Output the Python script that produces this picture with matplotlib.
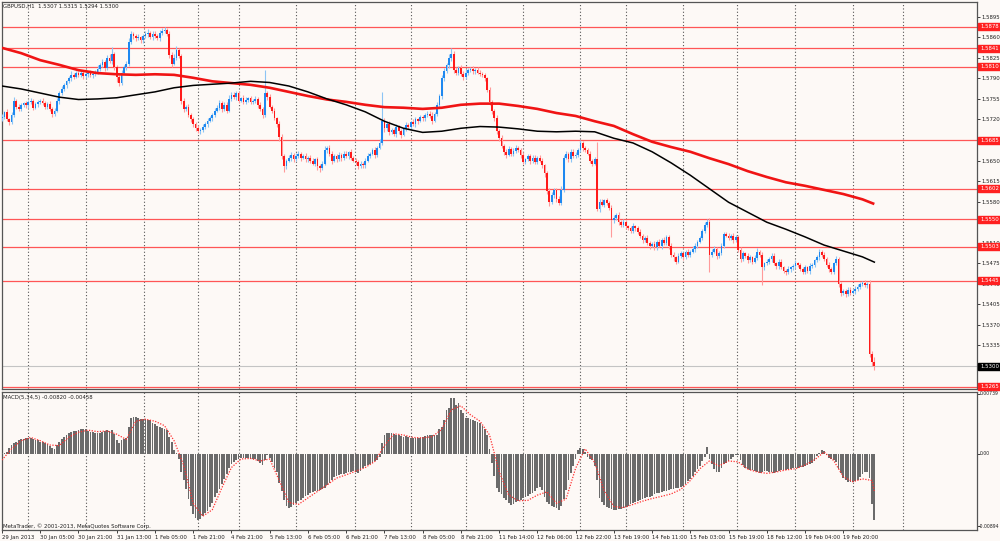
import numpy as np
import matplotlib
matplotlib.use("Agg")
import matplotlib.pyplot as plt
from matplotlib.patches import Rectangle
from matplotlib.transforms import blended_transform_factory

# GBPUSD H1 candles, prices as pips over 1.0000 (5725 -> 1.5725), one row = 16 bars
first_open = 5722
close = [
    5725, 5732, 5720, 5716, 5728, 5752, 5742, 5738, 5745, 5748, 5744, 5750, 5752, 5740, 5746, 5750,
    5752, 5748, 5742, 5747, 5738, 5730, 5735, 5752, 5765, 5772, 5778, 5785, 5790, 5796, 5793, 5799,
    5796, 5800, 5794, 5797, 5799, 5795, 5798, 5801, 5806, 5812, 5818, 5808, 5825, 5820, 5832, 5810,
    5792, 5782, 5800, 5810, 5815, 5852, 5866, 5862, 5858, 5860, 5855, 5862, 5865, 5868, 5860, 5866,
    5862, 5858, 5868, 5870, 5872, 5866, 5830, 5815, 5825, 5838, 5828, 5752, 5738, 5742, 5728, 5720,
    5712, 5705, 5700, 5702, 5708, 5712, 5718, 5722, 5728, 5735, 5740, 5748, 5738, 5745, 5735, 5755,
    5762, 5758, 5765, 5752, 5756, 5750, 5754, 5756, 5750, 5752, 5755, 5745, 5738, 5728, 5765, 5758,
    5742, 5735, 5722, 5712, 5690, 5658, 5640, 5650, 5655, 5660, 5652, 5658, 5662, 5655, 5658, 5652,
    5655, 5650, 5645, 5652, 5640, 5638, 5645, 5668, 5672, 5662, 5650, 5658, 5652, 5660, 5655, 5662,
    5658, 5664, 5655, 5650, 5648, 5640, 5645, 5642, 5650, 5658, 5662, 5668, 5660, 5672, 5680, 5718,
    5705, 5712, 5698, 5702, 5695, 5708, 5700, 5694, 5705, 5710, 5708, 5715, 5712, 5720, 5718, 5724,
    5722, 5728, 5730, 5726, 5718, 5730, 5745, 5760, 5790, 5802, 5812, 5825, 5832, 5805, 5800, 5808,
    5798, 5792, 5800, 5804, 5806, 5802, 5805, 5800, 5798, 5795, 5790, 5770, 5750, 5735, 5722, 5700,
    5688, 5675, 5665, 5660, 5670, 5662, 5666, 5672, 5668, 5660, 5648, 5652, 5658, 5650, 5655, 5648,
    5655, 5650, 5642, 5628, 5598, 5580, 5592, 5600, 5585, 5578, 5600, 5655, 5662, 5652, 5665, 5658,
    5660, 5668, 5680, 5672, 5668, 5662, 5650, 5645, 5652, 5568, 5580, 5575, 5582, 5578, 5570, 5548,
    5552, 5558, 5545, 5540, 5545, 5538, 5535, 5530, 5538, 5535, 5528, 5522, 5515, 5518, 5510, 5505,
    5508, 5502, 5512, 5505, 5515, 5510, 5520, 5505, 5490, 5485, 5478, 5488, 5492, 5486, 5494, 5490,
    5495, 5500, 5505, 5512, 5518, 5530, 5540, 5545, 5490, 5495, 5500, 5488, 5492, 5505, 5525, 5522,
    5518, 5522, 5515, 5520, 5498, 5482, 5492, 5488, 5480, 5485, 5478, 5484, 5495, 5490, 5468, 5475,
    5478, 5482, 5488, 5475, 5470, 5478, 5468, 5462, 5460, 5465, 5468, 5470, 5475, 5472, 5465, 5460,
    5468, 5462, 5470, 5472, 5480, 5485, 5494, 5490, 5482, 5472, 5465, 5460, 5475, 5482, 5440, 5425,
    5428, 5422, 5430, 5425, 5428, 5432, 5435, 5440, 5442, 5438, 5440, 5320, 5307, 5300,
]
# wick length above / below the body, pips
hi_ext = [
    4, 3, 5, 3, 4, 6, 3, 4, 3, 2, 4, 3, 5, 3, 4, 3,
    3, 4, 3, 2, 4, 3, 5, 4, 3, 5, 4, 3, 4, 6, 3, 4,
    4, 3, 2, 4, 3, 5, 3, 4, 6, 4, 5, 3, 4, 6, 12, 3,
    3, 4, 5, 3, 4, 6, 5, 3, 4, 6, 3, 4, 5, 6, 3, 4,
    5, 3, 4, 6, 5, 3, 4, 5, 6, 8, 3, 4, 5, 3, 4, 3,
    4, 3, 5, 3, 4, 3, 5, 4, 3, 5, 4, 6, 3, 4, 5, 6,
    4, 5, 3, 4, 3, 5, 4, 3, 4, 3, 5, 3, 4, 3, 39, 4,
    5, 3, 4, 3, 6, 5, 4, 3, 5, 4, 3, 5, 4, 3, 4, 5,
    3, 4, 5, 3, 4, 5, 4, 6, 3, 4, 5, 3, 4, 5, 3, 4,
    4, 3, 5, 3, 4, 3, 5, 3, 4, 5, 3, 4, 5, 3, 6, 48,
    5, 4, 6, 3, 4, 5, 3, 4, 3, 5, 4, 3, 5, 4, 3, 4,
    4, 3, 5, 4, 6, 3, 5, 4, 6, 5, 4, 6, 10, 5, 4, 3,
    5, 4, 6, 3, 4, 5, 3, 4, 5, 3, 4, 3, 5, 4, 3, 5,
    4, 6, 3, 5, 4, 3, 5, 4, 3, 4, 5, 3, 4, 3, 5, 4,
    3, 4, 5, 3, 4, 6, 5, 4, 3, 5, 6, 4, 5, 3, 4, 5,
    4, 3, 5, 4, 3, 4, 5, 3, 4, 29, 4, 5, 3, 4, 3, 4,
    5, 3, 4, 3, 5, 4, 3, 4, 5, 3, 4, 5, 3, 4, 5, 3,
    4, 5, 3, 4, 3, 5, 4, 3, 5, 4, 3, 5, 4, 3, 4, 5,
    3, 4, 5, 3, 4, 3, 5, 5, 8, 4, 5, 3, 4, 5, 4, 3,
    4, 3, 5, 4, 3, 5, 4, 3, 5, 4, 3, 5, 6, 3, 4, 3,
    4, 3, 5, 4, 3, 5, 4, 3, 4, 5, 3, 4, 5, 3, 4, 3,
    4, 3, 5, 4, 3, 4, 5, 3, 4, 3, 5, 4, 3, 5, 4, 3,
    4, 3, 5, 4, 3, 4, 5, 4, 3, 4, 3, 6, 6, 8,
]
lo_ext = [
    5, 4, 3, 6, 3, 4, 5, 3, 4, 3, 5, 4, 3, 4, 3, 5,
    4, 3, 5, 4, 3, 6, 4, 3, 5, 4, 3, 4, 3, 5, 4, 3,
    3, 4, 5, 3, 4, 3, 5, 4, 3, 4, 3, 5, 4, 3, 5, 6,
    8, 5, 4, 3, 5, 4, 3, 5, 4, 3, 4, 5, 3, 4, 3, 5,
    4, 3, 5, 4, 3, 4, 6, 5, 3, 4, 3, 6, 5, 4, 3, 5,
    4, 5, 3, 4, 3, 5, 4, 3, 5, 4, 3, 4, 5, 3, 4, 3,
    4, 3, 5, 4, 3, 4, 3, 5, 4, 3, 4, 5, 4, 5, 3, 4,
    3, 4, 3, 5, 6, 5, 10, 4, 3, 5, 4, 3, 4, 5, 3, 4,
    5, 4, 3, 5, 6, 8, 4, 3, 5, 4, 6, 3, 4, 3, 5, 4,
    3, 5, 4, 3, 5, 4, 3, 5, 4, 3, 4, 3, 5, 4, 3, 4,
    6, 4, 5, 3, 4, 5, 4, 6, 3, 4, 5, 4, 3, 4, 5, 3,
    4, 5, 3, 4, 5, 3, 4, 3, 5, 4, 3, 4, 5, 6, 4, 5,
    4, 5, 3, 4, 3, 5, 4, 3, 4, 3, 5, 4, 5, 6, 5, 4,
    5, 4, 6, 5, 3, 4, 5, 3, 4, 5, 3, 4, 3, 5, 4, 3,
    4, 3, 5, 6, 5, 8, 4, 5, 6, 4, 3, 4, 3, 5, 4, 3,
    3, 4, 3, 5, 4, 3, 4, 5, 3, 4, 5, 3, 4, 3, 5, 28,
    4, 3, 5, 4, 3, 5, 4, 3, 4, 5, 3, 4, 5, 3, 4, 5,
    3, 5, 4, 3, 5, 4, 3, 5, 4, 6, 5, 3, 4, 5, 3, 4,
    4, 3, 5, 4, 3, 4, 3, 4, 30, 4, 3, 5, 4, 3, 4, 3,
    3, 4, 5, 3, 4, 5, 3, 4, 5, 3, 4, 3, 4, 5, 30, 4,
    3, 4, 5, 3, 4, 5, 3, 4, 5, 3, 4, 5, 3, 4, 3, 4,
    3, 4, 5, 3, 4, 3, 4, 5, 3, 4, 5, 3, 4, 3, 5, 6,
    4, 5, 3, 4, 3, 5, 4, 3, 4, 3, 5, 5, 7, 6,
]
# MACD(5,34,5) main line per bar, units of 0.00001
macd = [
    5, 10, 25, 70, 110, 135, 150, 165, 175, 185, 192, 195, 190, 180, 172, 165,
    150, 140, 130, 115, 100, 70, 55, 110, 150, 185, 205, 225, 250, 265, 275, 285,
    292, 300, 305, 300, 280, 270, 262, 258, 260, 255, 262, 285, 290, 275, 295, 245,
    170, 130, 165, 175, 190, 330, 440, 455, 450, 440, 432, 425, 430, 420, 410, 380,
    365, 345, 330, 318, 305, 290, 205, 150, 45, 10, -60, -230, -320, -440, -560, -650,
    -740, -790, -817, -800, -770, -730, -700, -660, -610, -530, -480, -430, -370, -310, -245, -180,
    -130, -100, -80, -65, -58, -55, -55, -58, -60, -62, -70, -85, -120, -140, -80, -20,
    -55, -100, -170, -230, -360, -460, -570, -640, -670, -660, -630, -610, -585, -565, -545, -520,
    -510, -490, -470, -460, -455, -450, -440, -420, -390, -360, -320, -285, -270, -260, -250, -245,
    -240, -230, -220, -215, -225, -235, -210, -175, -150, -140, -125, -110, -95, -75, -40, 130,
    230, 255, 258, 255, 240, 232, 230, 215, 210, 212, 200, 195, 192, 190, 188, 192,
    205, 215, 225, 230, 228, 225, 235, 300, 330, 420, 540, 560, 682, 682, 600, 620,
    540, 500, 440, 436, 425, 415, 400, 390, 378, 345, 300, 230, 60, -120, -280, -420,
    -470, -500, -540, -575, -610, -630, -620, -600, -585, -570, -545, -530, -515, -500, -480, -455,
    -420, -405, -450, -530, -595, -625, -640, -655, -670, -690, -640, -560, -450, -320, -240, -150,
    -60, 45, 66, 60, 15, -40, -65, -80, -150, -330, -540, -600, -630, -655, -670, -685,
    -690, -692, -685, -680, -670, -660, -640, -625, -610, -600, -585, -570, -560, -548, -538, -530,
    -515, -500, -490, -480, -470, -462, -455, -448, -440, -432, -425, -418, -410, -395, -370, -340,
    -310, -270, -230, -190, -150, -90, -40, 80, -60, -130, -190, -230, -225, -170, -130, -110,
    -90, -60, -40, -20, -10, -80, -140, -170, -190, -200, -205, -215, -230, -240, -220, -210,
    -215, -225, -230, -235, -225, -215, -205, -200, -195, -190, -185, -180, -175, -170, -165, -160,
    -150, -140, -130, -115, -90, -30, 10, 45, 30, -15, -50, -70, -80, -100, -190, -240,
    -300, -330, -345, -345, -345, -340, -320, -290, -255, -230, -225, -300, -620, -820,
]
# signal line read every 4th bar (plus the last one)
signal = [
    -78, 60, 160, 200, 160, 107, 100, 205, 265, 290,
    272, 280, 240, 175, 400, 425, 400, 345, 160, -140,
    -611, -770, -690, -420, -170, -65, -58, -90, -65, -330,
    -600, -625, -545, -465, -385, -300, -260, -215, -170, -95,
    100, 245, 230, 200, 195, 210, 300, 540, 590, 480,
    400, 230, -220, -510, -580, -575, -510, -470, -610, -560,
    -180, 60, -110, -460, -650, -665, -625, -585, -552, -525,
    -495, -440, -330, -185, -90, -150, -90, -100, -190, -225,
    -242, -225, -200, -185, -140, -75, 20, -85, -283, -345,
    -310, -330, -458,
]
# moving averages read every 8th bar (plus the last one), pips
ma_red = [
    5842, 5833, 5821, 5813, 5804, 5799, 5797, 5796, 5797, 5796,
    5791, 5785, 5782, 5779, 5774, 5767, 5760, 5754, 5750, 5745,
    5741, 5740, 5738, 5740, 5745, 5747, 5747, 5743, 5738, 5731,
    5726, 5717, 5709, 5695, 5682, 5673, 5665, 5654, 5644, 5632,
    5622, 5613, 5607, 5600, 5593, 5584, 5576,
]
ma_black = [
    5777, 5772, 5765, 5758, 5754, 5755, 5757, 5762, 5767, 5774,
    5778, 5780, 5782, 5785, 5783, 5777, 5767, 5755, 5745, 5733,
    5717, 5705, 5698, 5700, 5705, 5708, 5707, 5704, 5700, 5699,
    5700, 5699, 5688, 5680, 5665, 5646, 5625, 5602, 5579, 5562,
    5545, 5533, 5520, 5506, 5496, 5486, 5477,
]
levels = [1.5878, 1.5841, 1.5810, 1.5685, 1.5602, 1.5550, 1.5503, 1.5445, 1.5265]
bid = 1.5300
price_ticks = [1.5265, 1.5300, 1.5335, 1.5370, 1.5405, 1.5440, 1.5475, 1.5510, 1.5545, 1.5580,
               1.5615, 1.5650, 1.5685, 1.5720, 1.5755, 1.5790, 1.5825, 1.5860, 1.5895]
macd_ticks = [739, 0, -894]
macd_tick_labels = ['0.00739', '0.00', '-0.00894']
time_labels = ['29 Jan 2013', '30 Jan 05:00', '30 Jan 21:00', '31 Jan 13:00', '1 Feb 05:00',
               '1 Feb 21:00', '4 Feb 21:00', '5 Feb 13:00', '6 Feb 05:00', '6 Feb 21:00',
               '7 Feb 13:00', '8 Feb 05:00', '8 Feb 21:00', '11 Feb 14:00', '12 Feb 06:00',
               '12 Feb 22:00', '13 Feb 19:00', '14 Feb 11:00', '15 Feb 03:00', '15 Feb 19:00',
               '18 Feb 12:00', '19 Feb 04:00', '19 Feb 20:00']
day_lines = [11, 35, 59.5, 82, 99, 123, 147.5, 171, 194, 218, 242, 261, 285, 307.5, 332, 356, 377]

plt.rcParams['font.family'] = 'DejaVu Sans'
W, H = 1000, 541
BG = '#fdf9f6'
FS = 3.9
TXT = '#202020'


def fx(px):
    return px / W


def fy(py):
    return 1 - py / H


fig = plt.figure(figsize=(10, 5.41), dpi=100, facecolor=BG)
ax = fig.add_axes([fx(1.5), fy(389), fx(977 - 1.5), (389 - 2) / H], facecolor=BG)
ax2 = fig.add_axes([fx(1.5), fy(530), fx(977 - 1.5), (530 - 391.5) / H], facecolor=BG)

n = len(close)
idx = np.arange(n)
c = 1 + np.array(close) / 1e4
o = np.r_[1 + first_open / 1e4, c[:-1]]
hi = np.maximum(o, c) + np.array(hi_ext) / 1e4
lo = np.minimum(o, c) - np.array(lo_ext) / 1e4
up = c > o
dn = ~up

##---------------------- price window -------------------------------------
for d in day_lines:
    ax.axvline(d, color='#555555', lw=0.8, ls=(0, (1, 2)), zorder=1)
    ax2.axvline(d, color='#555555', lw=0.8, ls=(0, (1, 2)), zorder=1)
for l in levels:
    ax.axhline(l, color='#ff5656', lw=0.9, zorder=2)
ax.axhline(bid, color='#c4c4c4', lw=0.8, zorder=2)

ax.vlines(idx[up], lo[up], hi[up], color='#8cc4f5', lw=0.8, zorder=3)
ax.vlines(idx[dn], lo[dn], hi[dn], color='#ff9a9a', lw=0.8, zorder=3)
body = np.maximum(np.abs(c - o), 0.00008)
ax.bar(idx[up], body[up], bottom=o[up], width=0.72, color='#1e88f0', lw=0, zorder=4)
ax.bar(idx[dn], body[dn], bottom=np.minimum(o, c)[dn], width=0.72, color='#ff1a1a', lw=0, zorder=4)

ma_bars = list(range(0, n, 8)) + [n - 1]
ax.plot(ma_bars, 1 + np.array(ma_red) / 1e4, color='#f01414', lw=1.9, zorder=5, solid_capstyle='butt')
ax.plot(ma_bars, 1 + np.array(ma_black) / 1e4, color='#000000', lw=1.1, zorder=5)

x_lim = ((1.5 - 2) / 2.39, (977 - 2) / 2.39)
ax.set_xlim(x_lim)
ax.set_ylim(1.52609, 1.59201)
ax.set_xticks([])
ax.yaxis.tick_right()
ax.set_yticks(price_ticks)
ax.set_yticklabels(['%.4f' % p for p in price_ticks])
ax.tick_params(axis='y', length=2, width=0.6, pad=1.5, labelsize=FS, colors=TXT)

tr = blended_transform_factory(fig.transFigure, ax.transData)
box_h = 7 / (387 / (1.59201 - 1.52609))
for l, col in [(p, '#ff2020') for p in levels] + [(bid, '#000000')]:
    ax.add_patch(Rectangle((fx(978), l - box_h / 2), fx(22), box_h, transform=tr,
                           color=col, clip_on=False, zorder=6))
    ax.text(fx(980.5), l, '%.4f' % l, transform=tr, color='white', fontsize=FS,
            va='center', ha='left', zorder=7, clip_on=False)

##---------------------- MACD window --------------------------------------
ax2.bar(idx, macd, width=0.74, color='#6b6b6b', lw=0, zorder=3)
signal_bars = list(range(0, n, 4)) + [n - 1]
ax2.plot(signal_bars, signal, color='#ff3030', lw=0.9, ls=(0, (1, 1.2)), zorder=4)
ax2.set_xlim(x_lim)
ax2.set_ylim(-939.8, 766.1)
ax2.yaxis.tick_right()
ax2.set_yticks(macd_ticks)
ax2.set_yticklabels([])
ax2.tick_params(axis='y', length=2, width=0.6, colors=TXT)
tr2 = blended_transform_factory(fig.transFigure, ax2.transData)
for v, s in zip(macd_ticks, macd_tick_labels):
    if s.startswith('-'):
        ax2.text(fx(999.5), v, s, transform=tr2, fontsize=3.3, va='center', ha='right',
                 color=TXT, clip_on=False)
    else:
        ax2.text(fx(980), v, s, transform=tr2, fontsize=3.3, va='center', ha='left',
                 color=TXT, clip_on=False)
ax2.set_xticks(list(range(0, n, 16)))
ax2.set_xticklabels(time_labels, ha='left')
ax2.tick_params(axis='x', length=2, width=0.6, pad=1.5, labelsize=FS, colors=TXT)

for a in (ax, ax2):
    for s in a.spines.values():
        s.set_color('#555555')
        s.set_linewidth(0.9)

fig.text(fx(3), fy(6.5), 'GBPUSD,H1  1.5307 1.5315 1.5294 1.5300', fontsize=FS, va='center', color=TXT)
fig.text(fx(3), fy(397), 'MACD(5,34,5) -0.00820 -0.00458', fontsize=FS, va='center', color=TXT)
fig.text(fx(3), fy(526.5), 'MetaTrader, \u00a9 2001-2013, MetaQuotes Software Corp.', fontsize=FS,
         va='center', color=TXT)

fig.savefig('out.png', dpi=100, facecolor=BG)
